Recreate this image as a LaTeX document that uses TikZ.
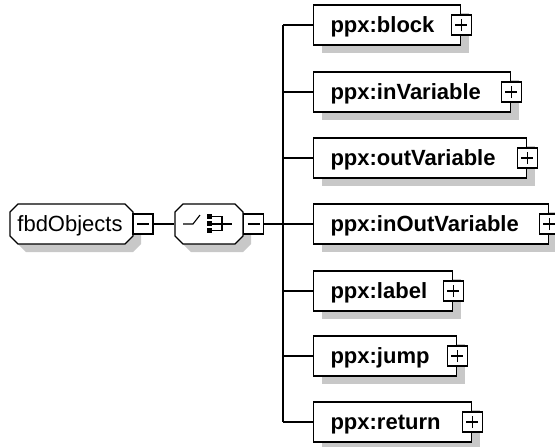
\documentclass[tikz,border=0pt]{standalone}
\usepackage{fontspec}
\setmainfont{Liberation Sans}
\usetikzlibrary{shadows,calc}
\definecolor{shd}{RGB}{200,200,200}
\newcommand\octpath[4]{(#1+8,#2) -- (#3-8,#2) -- (#3,#2+8) -- (#3,#4-8) -- (#3-8,#4) -- (#1+8,#4) -- (#1,#4-8) -- (#1,#2+8) -- cycle}
\begin{document}
\begin{tikzpicture}[x=1pt,y=-1pt,line width=1.1pt,
  txt/.style={inner sep=0pt, font=\fontsize{22}{22}\selectfont, text height=18pt, text depth=4pt},
  ppx/.style={draw, fill=white, rectangle, anchor=west, minimum height=40pt, inner xsep=17pt, inner ysep=0pt,
    align=left, font=\fontsize{22}{22}\selectfont\bfseries, text height=18pt, text depth=4pt,
    drop shadow={shadow xshift=8pt, shadow yshift=-8pt, fill=shd, opacity=1}},
  pmbox/.style={draw, fill=white, rectangle, minimum size=20pt, inner sep=0pt},
  plusbox/.style={pmbox, path picture={
      \draw[line width=1.1pt] ([xshift=-6pt]path picture bounding box.center) -- ([xshift=6pt]path picture bounding box.center);
      \draw[line width=1.1pt] ([yshift=-6pt]path picture bounding box.center) -- ([yshift=6pt]path picture bounding box.center);}},
  minusbox/.style={pmbox, path picture={
      \draw[line width=1.1pt] ([xshift=-6pt]path picture bounding box.center) -- ([xshift=6pt]path picture bounding box.center);}}
  ]
\useasboundingbox (0,0) rectangle (555,447);

% octagon shadows and outlines
\fill[shd] \octpath{18}{212}{141}{252};
\fill[shd] \octpath{183}{212}{251}{252};
\draw[fill=white] \octpath{10}{204}{133}{244};
\draw[fill=white] \octpath{175}{204}{243}{244};

\node[txt] (fbd) at (70,224) {fbdObjects};
\node[inner sep=0pt, minimum width=68pt, minimum height=40pt] (seq) at (209,224) {};

% sequence symbol
\draw (183,224) -- (193,224) -- (200,215);
\fill (207,214) rectangle (212,219);
\fill (207,221) rectangle (212,226);
\fill (207,228) rectangle (212,233);
\draw (212,216.5) -- (222,216.5) -- (222,230.5) -- (212,230.5);
\draw (212,224) -- (232,224);

\node[minusbox] (fbdm) at (143,224) {};
\node[minusbox] (seqm) at (253.5,224) {};

% trunk coordinates
\coordinate (t1) at (283,25);
\coordinate (t2) at (283,92);
\coordinate (t3) at (283,158);
\coordinate (t4) at (283,224);
\coordinate (t5) at (283,291);
\coordinate (t6) at (283,356);
\coordinate (t7) at (283,422);

\draw (fbdm.east) -- (seq.west);
\draw (seqm.east) -- (t4);
\draw (t1) -- (t7);

\node[ppx, text width=113pt] (block) at (313,25) {ppx:block};
\node[ppx, text width=163pt] (inv) at (313,92) {ppx:inVariable};
\node[ppx, text width=179pt] (outv) at (313,158) {ppx:outVariable};
\node[ppx, text width=201pt] (inoutv) at (313,224) {ppx:inOutVariable};
\node[ppx, text width=105pt] (label) at (313,291) {ppx:label};
\node[ppx, text width=109pt] (jump) at (313,356) {ppx:jump};
\node[ppx, text width=124pt] (ret) at (313,422) {ppx:return};

\foreach \n/\t in {block/t1, inv/t2, outv/t3, inoutv/t4, label/t5, jump/t6, ret/t7}{
  \draw (\t) -- (\n.west);
  \node[plusbox] (\n p) at (\n.east) {};
}
\end{tikzpicture}
\end{document}
